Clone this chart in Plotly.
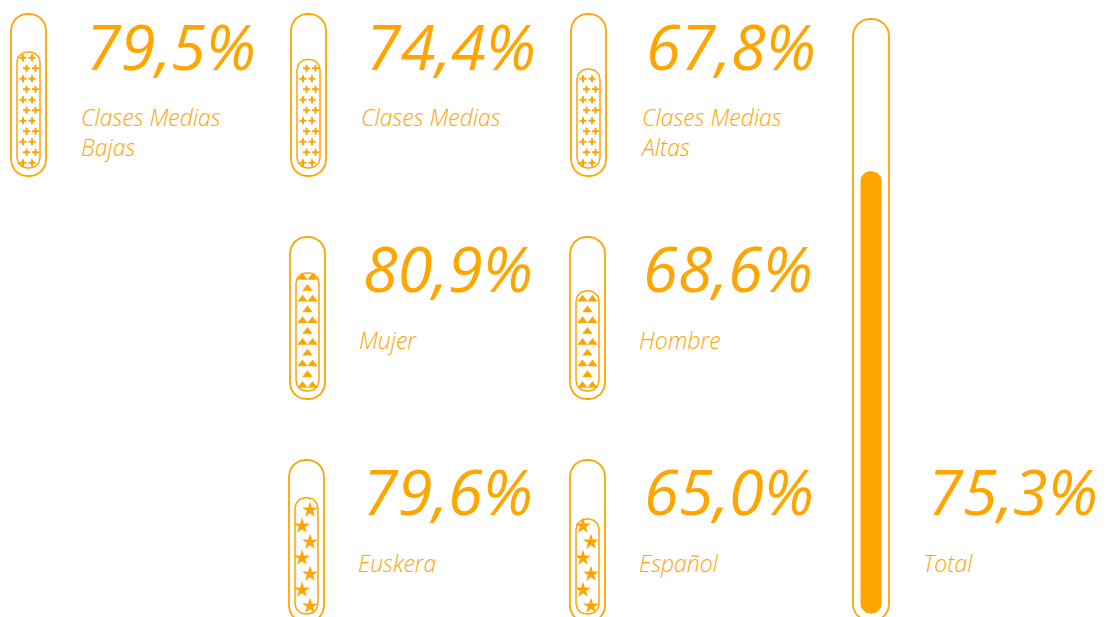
import numpy as np
import plotly.graph_objects as go

# ---------------- data ----------------
categories = ["Clases Medias<br>Bajas", "Clases Medias", "Clases Medias<br>Altas",
              "Mujer", "Hombre", "Euskera", "Español", "Total"]
values = [79.5, 74.4, 67.8, 80.9, 68.6, 79.6, 65.0, 75.3]
value_labels = ["79,5%", "74,4%", "67,8%", "80,9%", "68,6%", "79,6%", "65,0%", "75,3%"]
patterns = ["cross", "cross", "cross", "triangle", "triangle", "star", "star", "solid"]

# ---------------- layout (pixel-space axes) ----------------
W, H = 1108, 617
ORANGE = "#FFA500"
tube_x = [11, 291, 571, 290, 570, 289, 570, 853]
tube_top = [14, 14, 14, 237, 237, 460, 460, 19]
tube_h = [162, 162, 162, 162, 162, 162, 162, 602]
tube_w = [35, 35, 35, 35, 35, 35, 35, 36]
fill_inset_x = [6, 6, 6, 6, 6, 6, 6, 8]
fill_inset_y = [8, 8, 8, 8, 8, 8, 8, 8]
text_x = [84, 364, 644, 361, 641, 361, 642, 926]
text_y = [45, 45, 45, 267, 267, 490, 490, 490]
label_x = [79, 359, 638, 357, 637, 356, 637, 921]
label_y = [99, 99, 99, 322, 322, 545, 545, 545]


def rounded_rect(x0, y0, x1, y1, r, n=12):
    r = min(r, (x1 - x0) / 2, (y1 - y0) / 2)
    xs, ys = [], []
    corners = [
        (x1 - r, y0 + r, -np.pi / 2, 0),
        (x1 - r, y1 - r, 0, np.pi / 2),
        (x0 + r, y1 - r, np.pi / 2, np.pi),
        (x0 + r, y0 + r, np.pi, 1.5 * np.pi),
    ]
    for cx, cy, a0, a1 in corners:
        t = np.linspace(a0, a1, n)
        xs += list(cx + r * np.cos(t))
        ys += list(cy + r * np.sin(t))
    xs.append(xs[0])
    ys.append(ys[0])
    return xs, ys


fig = go.Figure()

for i, v in enumerate(values):
    x0 = tube_x[i]
    x1 = x0 + tube_w[i]
    y0 = tube_top[i]
    y1 = y0 + tube_h[i]
    # outer tube
    xs, ys = rounded_rect(x0, y0, x1, y1, tube_w[i] / 2 - 1)
    fig.add_trace(go.Scatter(x=xs, y=ys, mode="lines", line=dict(color=ORANGE, width=1.8),
                             fill="toself", fillcolor="white", hoverinfo="skip", showlegend=False))
    # fill level computed from the value
    fx0 = x0 + fill_inset_x[i]
    fx1 = x1 - fill_inset_x[i]
    fb = y1 - fill_inset_y[i]
    cap = tube_h[i] - 2 * fill_inset_y[i]
    ft = fb - cap * v / 100.0
    xs, ys = rounded_rect(fx0, ft, fx1, fb, (fx1 - fx0) / 2 - 1)
    if patterns[i] == "solid":
        fig.add_trace(go.Scatter(x=xs, y=ys, mode="lines", line=dict(color=ORANGE, width=1),
                                 fill="toself", fillcolor=ORANGE, hoverinfo="skip", showlegend=False,
                                 name=categories[i]))
    else:
        fig.add_trace(go.Scatter(x=xs, y=ys, mode="lines", line=dict(color=ORANGE, width=1.5),
                                 fill="toself", fillcolor="white", hoverinfo="skip", showlegend=False,
                                 name=categories[i]))
        cx = (fx0 + fx1) / 2
        mx, my = [], []
        if patterns[i] == "cross":
            step, offs, sym, size = 10.5, [[-5.5, 3.5], [-2.0, 7.0]], "cross-thin", 5
        elif patterns[i] == "triangle":
            step, offs, sym, size = 10.8, [[-5.0, 5.0], [0.0]], "triangle-up", 9
        else:
            step, offs, sym, size = 16.0, [[3.5], [-4.5]], "star", 12
        k = 0
        yy = fb - step / 2
        while yy > ft + 4:
            for o in offs[k % 2]:
                xx = cx + o
                if fx0 + 2 <= xx <= fx1 - 2:
                    mx.append(xx)
                    my.append(yy)
            yy -= step
            k += 1
        if sym == "cross-thin":
            marker = dict(symbol=sym, size=size, line=dict(color=ORANGE, width=2), color=ORANGE)
        else:
            marker = dict(symbol=sym, size=size, color=ORANGE, line=dict(width=0))
        fig.add_trace(go.Scatter(x=mx, y=my, mode="markers", marker=marker,
                                 hoverinfo="skip", showlegend=False))

    fig.add_annotation(x=text_x[i], y=text_y[i], text=value_labels[i], showarrow=False,
                       xanchor="left", yanchor="middle",
                       font=dict(family="Open Sans", size=63, color=ORANGE, style="italic"))
    fig.add_annotation(x=label_x[i], y=label_y[i], text=categories[i], showarrow=False,
                       xanchor="left", yanchor="top", align="left",
                       font=dict(family="Open Sans", size=23, color=ORANGE, style="italic", weight=300))

fig.update_layout(
    width=W, height=H, margin=dict(l=0, r=0, t=0, b=0),
    paper_bgcolor="white", plot_bgcolor="white",
    xaxis=dict(range=[0, W], visible=False, fixedrange=True),
    yaxis=dict(range=[H, 0], visible=False, fixedrange=True),
)
fig.write_html("out.html", config={"displayModeBar": False},
               post_script="document.body.style.margin='0';document.body.style.overflow='hidden';")
